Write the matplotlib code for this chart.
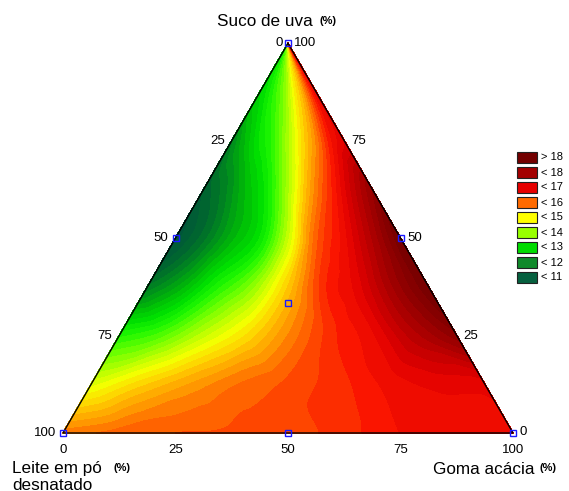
import numpy as np
import matplotlib
matplotlib.use("Agg")
import matplotlib.pyplot as plt
import matplotlib.tri as mtri
from matplotlib.colors import LinearSegmentedColormap, Normalize
from matplotlib.patches import Rectangle

plt.rcParams['font.family'] = ['Liberation Sans', 'DejaVu Sans']

# ---------------- data ----------------
# Response surface on a grid of
# suco fraction (rows, 0 -> 1) and goma/(leite+goma) ratio (columns, 0 -> 1)
suco_levels = [0.0, 0.125, 0.25, 0.375, 0.5, 0.625, 0.75, 0.875, 1.0]
ratio_levels = [0.0, 0.125, 0.25, 0.375, 0.5, 0.625, 0.75, 0.875, 1.0]
z_suco_000 = [15.7, 15.9, 16.0, 16.05, 16.12, 16.3, 16.6, 16.7, 16.75]
z_suco_125 = [14.3, 14.9, 15.4, 15.8, 16.05, 16.3, 16.65, 16.85, 16.9]
z_suco_250 = [12.9, 13.3, 14.1, 14.8, 15.6, 16.3, 16.75, 17.5, 18.1]
z_suco_375 = [11.2, 11.9, 12.9, 13.7, 15.0, 16.3, 16.9, 17.8, 18.6]
z_suco_500 = [10.5, 11.1, 11.9, 12.6, 14.1, 15.9, 16.7, 17.6, 18.6]
z_suco_625 = [10.8, 11.3, 12.0, 12.7, 13.9, 15.3, 16.3, 17.2, 18.0]
z_suco_750 = [11.3, 12.0, 12.6, 13.1, 13.9, 14.8, 15.6, 16.5, 17.0]
z_suco_875 = [12.3, 12.6, 13.0, 13.4, 13.9, 14.6, 15.2, 16.0, 16.8]
z_suco_1000 = [12.6, 12.9, 13.2, 13.6, 14.0, 14.6, 15.1, 15.8, 16.5]

# design points (suco, leite, goma) fractions
design_suco = [1.0, 0.0, 0.0, 0.5, 0.5, 0.0, 1/3]
design_leite = [0.0, 1.0, 0.0, 0.5, 0.0, 0.5, 1/3]
design_goma = [0.0, 0.0, 1.0, 0.0, 0.5, 0.5, 1/3]

legend_labels = ['> 18', '< 18', '< 17', '< 16', '< 15', '< 14', '< 13', '< 12', '< 11']
legend_colors = ['#730000', '#a30000', '#e60000', '#ff6a00', '#ffff00',
                 '#98ff00', '#00dc00', '#10892a', '#06603f']

tick_values = [0, 25, 50, 75, 100]

# colour scale anchors (value, colour)
cmap_values = [10.5, 11.0, 11.5, 12.0, 12.5, 13.0, 13.5, 14.0, 14.5,
               15.0, 15.5, 16.0, 16.5, 17.0, 17.5, 18.0, 18.5]
cmap_colors = ['#00553a', '#006a2d', '#00931a', '#00bb06', '#00e100',
               '#20f800', '#6eff00', '#b4ff00', '#f5ff00', '#ffcd00',
               '#ff9600', '#ff5500', '#fa1400', '#e10000', '#b90000',
               '#960000', '#7a0000']
contour_levels = np.arange(10.0, 19.01, 0.2)

# ---------------- figure ----------------
W, H = 569, 491
fig = plt.figure(figsize=(W / 100, H / 100), dpi=100)
ax = fig.add_axes([0, 0, 1, 1])
X0, Y0, SC = 63.0, 433.0, 450.0  # pixel of leite vertex and side length
ax.set_xlim(-X0 / SC, (W - X0) / SC)
ax.set_ylim((Y0 - H) / SC, Y0 / SC)
ax.axis('off')

def P(px, py):
    return (px - X0) / SC, (Y0 - py) / SC

h3 = np.sqrt(3) / 2

def bary(s, l, g):
    s, l, g = np.asarray(s), np.asarray(l), np.asarray(g)
    return g + 0.5 * s, s * h3

# interpolate grid
zgrid = np.array([z_suco_000, z_suco_125, z_suco_250, z_suco_375, z_suco_500,
                  z_suco_625, z_suco_750, z_suco_875, z_suco_1000])
tc, sc = np.meshgrid(ratio_levels, suco_levels)
tri = mtri.Triangulation(tc.ravel(), sc.ravel())
interp = mtri.CubicTriInterpolator(tri, zgrid.ravel(), kind='geom')
tf, sf = np.meshgrid(np.linspace(0, 1, 301), np.linspace(0, 1, 301))
zf = np.asarray(interp(tf.ravel(), sf.ravel())).reshape(tf.shape)
lf = (1 - sf) * (1 - tf)
gf = (1 - sf) * tf
XF, YF = bary(sf, lf, gf)

vmin, vmax = cmap_values[0], cmap_values[-1]
cmap = LinearSegmentedColormap.from_list(
    'st', [((v - vmin) / (vmax - vmin), c) for v, c in zip(cmap_values, cmap_colors)])
norm = Normalize(vmin, vmax)
cs = ax.contourf(XF, YF, zf, levels=contour_levels, cmap=cmap, norm=norm,
                 extend='both', antialiased=False)
cs.set_edgecolor('face')
cs.set_linewidth(0.6)

# triangle outline
vx, vy = bary([1, 0, 0, 1], [0, 1, 0, 0], [0, 0, 1, 0])
ax.plot(vx, vy, color='black', lw=1.0, zorder=3)

# design points
dx, dy = bary(design_suco, design_leite, design_goma)
ax.plot(dx, dy, 's', ms=4, mfc='none', mec='#1a1aff', mew=1.0, zorder=4, clip_on=False)

tfs = 9.5
# left edge ticks (leite: 100 at bottom, 0 at top)
for v in tick_values:
    s = 1 - v / 100
    x, y = bary(s, v / 100, 0)
    if v == 0:
        continue
    ax.text(x - 7 / SC, y, str(v), ha='right', va='center', fontsize=tfs)
# right edge ticks (suco)
for v in tick_values:
    s = v / 100
    x, y = bary(s, 0, 1 - s)
    if v == 100:
        continue
    ax.text(x + 7 / SC, y + (0 if v else 1 / SC), str(v), ha='left', va='center', fontsize=tfs)
# apex labels
ax.text(*P(283, 43), '0', ha='right', va='center', fontsize=tfs)
ax.text(*P(294, 43), '100', ha='left', va='center', fontsize=tfs)
# bottom ticks (goma)
for v in tick_values:
    x, y = bary(0, 1 - v / 100, v / 100)
    ax.text(x, y - 17 / SC, str(v), ha='center', va='center', fontsize=tfs)

# axis titles
afs = 12.3
ax.text(*P(217, 21), 'Suco de uva', ha='left', va='center', fontsize=afs)
ax.text(*P(319, 21), '(%)', ha='left', va='center', fontsize=8, fontweight='bold')
ax.text(*P(12, 469), 'Leite em pó', ha='left', va='center', fontsize=afs)
ax.text(*P(113, 468), '(%)', ha='left', va='center', fontsize=8, fontweight='bold')
ax.text(*P(12, 485), 'desnatado', ha='left', va='center', fontsize=afs)
ax.text(*P(433, 469), 'Goma acácia', ha='left', va='center', fontsize=afs)
ax.text(*P(539, 468), '(%)', ha='left', va='center', fontsize=8, fontweight='bold')

# legend
for i, (lab, col) in enumerate(zip(legend_labels, legend_colors)):
    top = 152 + 15 * i
    x, y = P(517, top + 10.5)
    ax.add_patch(Rectangle((x, y), 20 / SC, 10.5 / SC, facecolor=col,
                           edgecolor='#222222', lw=0.8, clip_on=False))
    ax.text(*P(541, top + 5.5), lab, ha='left', va='center', fontsize=8)

fig.savefig('out.png', dpi=100)
